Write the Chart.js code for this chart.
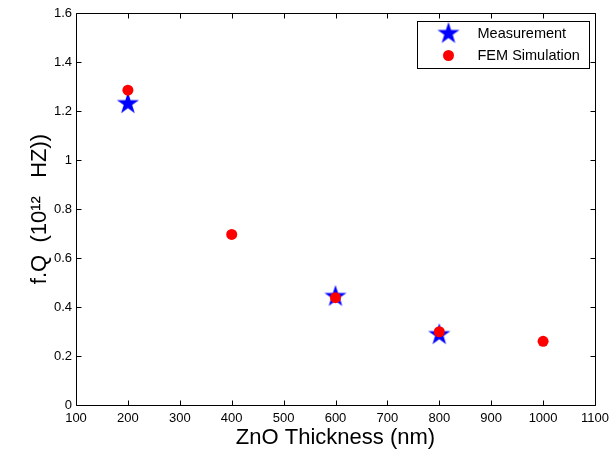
<!DOCTYPE html>
<html>
<head>
<meta charset="utf-8">
<script src="https://cdn.jsdelivr.net/npm/chart.js@4"></script>
<style>
  html, body { margin: 0; padding: 0; background: #fff; }
</style>
</head>
<body>
<canvas id="c" width="611" height="462"></canvas>
<script>
const SERIES_LABELS = ["Measurement", "FEM Simulation"];
const MEAS_X = [200, 600, 800];
const MEAS_Y = [1.23, 0.443, 0.287];
const FEM_X = [200, 400, 600, 800, 1000];
const FEM_Y = [1.285, 0.696, 0.438, 0.299, 0.26];
const X_TICKS = [100, 200, 300, 400, 500, 600, 700, 800, 900, 1000, 1100];
const Y_TICKS = [0, 0.2, 0.4, 0.6, 0.8, 1, 1.2, 1.4, 1.6];

Chart.defaults.font.family = "'Liberation Sans', Arial, sans-serif";
Chart.defaults.color = "#000";

// filled five-point star, used as an image point style
function starImage(r, color) {
  const size = Math.ceil(r * 2) + 2;
  const c = document.createElement("canvas");
  c.width = c.height = size;
  const g = c.getContext("2d");
  g.translate(size / 2, size / 2);
  g.beginPath();
  for (let i = 0; i < 10; i++) {
    const rad = i % 2 ? r * 0.382 : r;
    const a = -Math.PI / 2 + i * Math.PI / 5;
    g.lineTo(rad * Math.cos(a), rad * Math.sin(a));
  }
  g.closePath();
  g.fillStyle = color;
  g.fill();
  return c;
}

const STAR = starImage(11.6, "#0000ff");

const framePlugin = {
  id: "frame",
  beforeDatasetsDraw(chart) {
    const { ctx, chartArea: a, scales } = chart;
    const L = Math.round(a.left) + 0.5, R = Math.round(a.right) + 0.5;
    const T = Math.round(a.top) + 0.5, B = Math.round(a.bottom) + 0.5;
    ctx.save();
    ctx.strokeStyle = "#000";
    ctx.lineWidth = 1;
    ctx.beginPath();
    ctx.rect(L, T, R - L, B - T);
    // inward ticks on all four sides
    const tl = 5;
    scales.x.ticks.forEach((t, i) => {
      const x = Math.round(scales.x.getPixelForTick(i)) + 0.5;
      ctx.moveTo(x, B); ctx.lineTo(x, B - tl);
      ctx.moveTo(x, T); ctx.lineTo(x, T + tl);
    });
    scales.y.ticks.forEach((t, i) => {
      const y = Math.round(scales.y.getPixelForTick(i)) + 0.5;
      ctx.moveTo(L, y); ctx.lineTo(L + tl, y);
      ctx.moveTo(R, y); ctx.lineTo(R - tl, y);
    });
    ctx.stroke();
    ctx.restore();
  }
};

const legendPlugin = {
  id: "boxLegend",
  afterDraw(chart) {
    const { ctx, chartArea: a } = chart;
    const w = 172, h = 47;
    const left = Math.round(a.right - 6 - w) + 0.5;
    const top = Math.round(a.top + 8) + 0.5;
    ctx.save();
    ctx.fillStyle = "#fff";
    ctx.strokeStyle = "#000";
    ctx.lineWidth = 1;
    ctx.fillRect(left, top, w, h);
    ctx.strokeRect(left, top, w, h);
    const rows = [top + 12, top + 34];
    chart.data.datasets.forEach((ds, i) => {
      const y = rows[i];
      ctx.fillStyle = ds.backgroundColor;
      Chart.helpers.drawPoint(ctx, {
        pointStyle: ds.pointStyle, rotation: 0, radius: ds.pointRadius, borderWidth: 0
      }, left + 31, y);
      ctx.fillStyle = "#000";
      ctx.font = "14.5px 'Liberation Sans', Arial, sans-serif";
      ctx.textBaseline = "middle";
      ctx.textAlign = "left";
      ctx.fillText(ds.label, left + 60, y + 0.5);
    });
    ctx.restore();
  }
};

new Chart(document.getElementById("c"), {
  type: "scatter",
  data: {
    datasets: [
      {
        label: SERIES_LABELS[0],
        data: MEAS_X.map((x, i) => ({ x, y: MEAS_Y[i] })),
        pointStyle: STAR,
        pointRadius: 11,
        backgroundColor: "#0000ff",
        borderWidth: 0,
        order: 1
      },
      {
        label: SERIES_LABELS[1],
        data: FEM_X.map((x, i) => ({ x, y: FEM_Y[i] })),
        pointStyle: "circle",
        pointRadius: 5.5,
        backgroundColor: "#ff0000",
        borderWidth: 0,
        order: 0
      }
    ]
  },
  options: {
    responsive: false,
    animation: false,
    devicePixelRatio: 1,
    layout: { padding: { top: 13, right: 16, left: 0, bottom: 0 } },
    plugins: { legend: { display: false }, tooltip: { enabled: false } },
    scales: {
      x: {
        type: "linear",
        min: 100,
        max: 1100,
        afterBuildTicks: s => { s.ticks = X_TICKS.map(v => ({ value: v })); },
        afterFit: s => { s.height = 57; s.paddingLeft = 0; s.paddingRight = 0; },
        grid: { display: false, drawTicks: false },
        border: { display: false },
        ticks: {
          font: { size: 13 }, padding: 6, maxRotation: 0, autoSkip: false,
          callback: v => String(v)
        },
        title: {
          display: true,
          text: "ZnO Thickness (nm)",
          font: { size: 22 },
          padding: { top: 0, bottom: 11 }
        }
      },
      y: {
        type: "linear",
        min: 0,
        max: 1.6,
        afterBuildTicks: s => { s.ticks = Y_TICKS.map(v => ({ value: v })); },
        afterFit: s => { s.width = 76; },
        grid: { display: false, drawTicks: false },
        border: { display: false },
        ticks: {
          font: { size: 13 }, padding: 4, autoSkip: false,
          callback: v => String(v)
        },
        title: {
          display: true,
          text: "f.Q  (10\u00B9\u00B2   HZ))",
          font: { size: 22 },
          padding: { top: 27, bottom: 0 }
        }
      }
    }
  },
  plugins: [framePlugin, legendPlugin]
});
</script>
</body>
</html>
